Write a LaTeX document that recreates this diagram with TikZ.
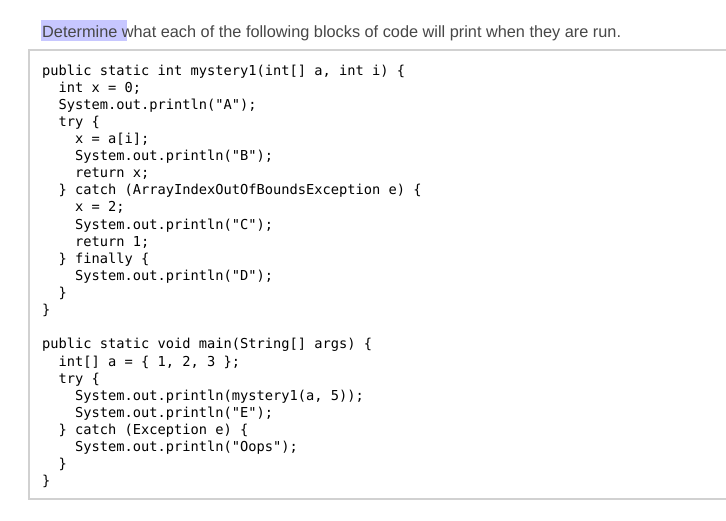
\documentclass[tikz,border=0pt]{standalone}
\usepackage{fontspec}
\setmainfont{Liberation Sans}
\newfontfamily\codefont{DejaVu Sans Mono}[Scale=1]
\begin{document}
\begin{tikzpicture}[x=1pt,y=1pt,
  code/.style={anchor=base west,inner sep=0,font=\codefont\fontsize{13.7}{15}\selectfont,text=black},
  head/.style={anchor=base west,inner sep=0,font=\fontsize{16.3}{18}\selectfont,text=black!72}]
\useasboundingbox (0,0) rectangle (726,-520);
\fill[white] (0,0) rectangle (726,-520);
\fill[blue!22!white] (41,-20) rectangle (127,-41);
\draw[black!18, line width=1.2] (29,-50) rectangle (727,-499);
\node[head] (h) at (42,-37) {Determine what each of the following blocks of code will print when they are run.};
\def\cx#1{42+#1*8.25}
\def\ly#1{-75-#1*17.12}
\node[code] (l0) at ({\cx0},{\ly0}) {public static int mystery1(int[] a, int i) \{};
\node[code] (l1) at ({\cx2},{\ly1}) {int x = 0;};
\node[code] (l2) at ({\cx2},{\ly2}) {System.out.println("A");};
\node[code] (l3) at ({\cx2},{\ly3}) {try \{};
\node[code] (l4) at ({\cx4},{\ly4}) {x = a[i];};
\node[code] (l5) at ({\cx4},{\ly5}) {System.out.println("B");};
\node[code] (l6) at ({\cx4},{\ly6}) {return x;};
\node[code] (l7) at ({\cx2},{\ly7}) {\} catch (ArrayIndexOutOfBoundsException e) \{};
\node[code] (l8) at ({\cx4},{\ly8}) {x = 2;};
\node[code] (l9) at ({\cx4},{\ly9}) {System.out.println("C");};
\node[code] (l10) at ({\cx4},{\ly{10}}) {return 1;};
\node[code] (l11) at ({\cx2},{\ly{11}}) {\} finally \{};
\node[code] (l12) at ({\cx4},{\ly{12}}) {System.out.println("D");};
\node[code] (l13) at ({\cx2},{\ly{13}}) {\}};
\node[code] (l14) at ({\cx0},{\ly{14}}) {\}};
\node[code] (l16) at ({\cx0},{\ly{16}}) {public static void main(String[] args) \{};
\node[code] (l17) at ({\cx2},{\ly{17}}) {int[] a = \{ 1, 2, 3 \};};
\node[code] (l18) at ({\cx2},{\ly{18}}) {try \{};
\node[code] (l19) at ({\cx4},{\ly{19}}) {System.out.println(mystery1(a, 5));};
\node[code] (l20) at ({\cx4},{\ly{20}}) {System.out.println("E");};
\node[code] (l21) at ({\cx2},{\ly{21}}) {\} catch (Exception e) \{};
\node[code] (l22) at ({\cx4},{\ly{22}}) {System.out.println("Oops");};
\node[code] (l23) at ({\cx2},{\ly{23}}) {\}};
\node[code] (l24) at ({\cx0},{\ly{24}}) {\}};
\end{tikzpicture}
\end{document}
